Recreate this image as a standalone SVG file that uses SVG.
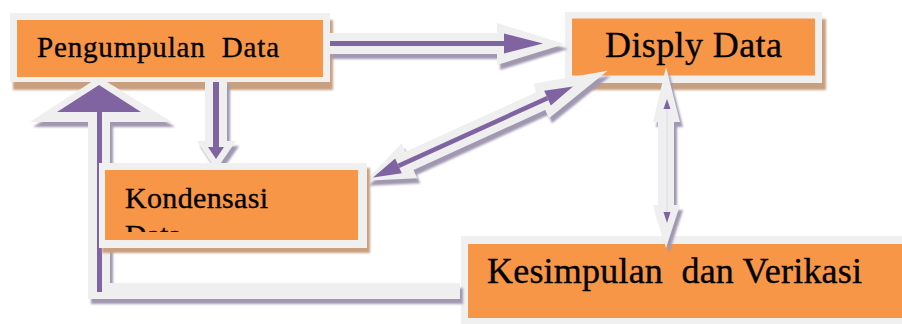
<svg xmlns="http://www.w3.org/2000/svg" width="902" height="324" viewBox="0 0 902 324">
  <defs>
    <style>
      .frame { fill: #f0f0f0; }
      .fill { fill: #f79646; }
      .boxshadow { fill: #c8a080; filter: url(#soft); }
      .label { font-family: 'Liberation Serif', 'Times New Roman', serif; fill: #000; stroke: #000; stroke-width: 0.35; white-space: pre; }
      .halo { fill: #efefef; }
      .cshadow { fill: #a098b0; filter: url(#soft); }
      .core { stroke: #8064a2; fill: none; }
      .head { fill: #8064a2; }
    </style>
    <filter id="soft" x="-10%" y="-10%" width="120%" height="120%">
      <feGaussianBlur stdDeviation="0.8"/>
    </filter>
    <clipPath id="kclip">
      <rect x="105" y="170" width="253" height="62"/>
    </clipPath>
    <!-- outlines of the connectors, reused for their shadows -->
    <path id="hA" d="M328,33 H497 V23 L565,44 L497,65 V54 H328 Z"/>
    <path id="hB" d="M205,80 V141 H197 L216,170 L236,141 H227 V80 Z"/>
    <path id="hC" d="M365.7,180.8 L401.5,143.6 L405.3,151.8 L537,91.9 L533.2,83.7 L607.6,70.8 L549,118.3 L545.2,110.1 L413.5,170 L417.3,178.2 Z"/>
    <path id="hD" d="M666,67 L680,122 H674 V205 H680 L666,248 L653,205 H658 V122 H653 Z"/>
    <path id="hE" d="M99,77 L172,122 H110 V283 H460 V299 H88 V122 H30 Z"/>
  </defs>

  <rect width="902" height="324" fill="#ffffff"/>

  <g id="pengumpulan">
    <rect class="boxshadow" x="13" y="20" width="320" height="70"/>
    <rect class="frame" x="10" y="13" width="320" height="69"/>
    <rect class="fill" x="17" y="20" width="306" height="57"/>
    <text class="label" x="37" y="57" font-size="29" textLength="242" lengthAdjust="spacing">Pengumpulan  Data</text>
  </g>

  <g id="display">
    <rect class="boxshadow" x="569" y="19" width="257" height="71"/>
    <rect class="frame" x="565" y="12" width="257" height="71"/>
    <rect class="fill" x="572" y="18.5" width="243" height="57"/>
    <text class="label" x="605" y="57" font-size="36" textLength="177" lengthAdjust="spacing">Disply Data</text>
  </g>

  <g id="kesimpulan">
    <rect class="frame" x="461" y="236" width="441" height="88"/>
    <rect class="fill" x="468" y="244" width="434" height="74"/>
    <text class="label" x="487" y="283" font-size="36" textLength="375" lengthAdjust="spacing">Kesimpulan  dan Verikasi</text>
  </g>

  <g id="connectors">
    <!-- drop shadows -->
    <g transform="translate(3,5)">
      <use href="#hA" class="cshadow"/>
      <use href="#hB" class="cshadow"/>
      <use href="#hC" class="cshadow"/>
      <use href="#hD" class="cshadow"/>
      <use href="#hE" class="cshadow"/>
    </g>
    <!-- light outlines -->
    <use href="#hA" class="halo"/>
    <use href="#hB" class="halo"/>
    <use href="#hC" class="halo"/>
    <use href="#hD" class="halo"/>
    <use href="#hE" class="halo"/>

    <!-- Pengumpulan Data -> Disply Data -->
    <path class="core" stroke-width="5" d="M330,43.5 H508"/>
    <polygon class="head" points="504,33.5 543,43.5 504,53.5"/>

    <!-- Pengumpulan Data -> Kondensasi -->
    <path class="core" stroke-width="6" d="M216,82 V149"/>
    <polygon class="head" points="208,147 224,147 216,159"/>

    <!-- Disply Data <-> Kondensasi -->
    <path class="core" stroke-width="4.5" d="M398.5,165.9 L547.5,98.1"/>
    <polygon class="head" points="373,177.5 395.2,158.6 401.8,173.2"/>
    <polygon class="head" points="573,86.5 544.2,90.8 550.8,105.4"/>

    <!-- Disply Data <-> Kesimpulan -->
    <path stroke="#ded8e8" stroke-width="1" fill="none" d="M667,108 V213"/>
    <polygon class="head" points="667,99 663.5,109 670.5,109"/>
    <polygon class="head" points="663.5,212 670.5,212 667,223"/>

    <!-- Kesimpulan -> Pengumpulan Data -->
    <path class="core" stroke-width="5" d="M99.5,292 V110"/>
    <polygon class="head" points="57,112 141,112 99,85"/>
  </g>

  <g id="kondensasi">
    <rect class="boxshadow" x="102" y="168" width="268" height="85"/>
    <rect class="frame" x="99" y="163" width="268" height="85"/>
    <rect class="fill" x="105" y="170" width="253" height="70"/>
    <g clip-path="url(#kclip)">
      <text class="label" x="125" y="208" font-size="30" textLength="143" lengthAdjust="spacing">Kondensasi</text>
      <text class="label" x="125" y="245" font-size="30">Data</text>
    </g>
  </g>
</svg>
